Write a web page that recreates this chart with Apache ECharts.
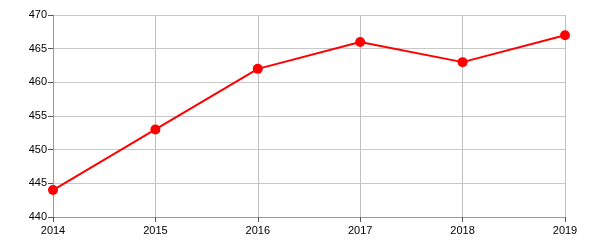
<!DOCTYPE html>
<html><head><meta charset="utf-8">
<script src="https://cdn.jsdelivr.net/npm/echarts@6/dist/echarts.min.js"></script>
<style>html,body{margin:0;padding:0;background:#fff}#c{width:600px;height:250px}</style>
</head><body><div id="c"></div>
<script>
const years = ['2014','2015','2016','2017','2018','2019'];
const values = [444, 453, 462, 466, 463, 467];
const yTicks = [440, 445, 450, 455, 460, 465, 470];

const chart = echarts.init(document.getElementById('c'), null, {renderer:'canvas'});
chart.setOption({
  animation:false,
  grid:{left:53, right:35, top:15, bottom:33, containLabel:false},
  xAxis:{
    type:'category', data:years, boundaryGap:false,
    axisLine:{lineStyle:{color:'#999', width:1}},
    axisTick:{show:true, length:5, lineStyle:{color:'#555'}},
    axisLabel:{color:'#000', fontSize:11, fontFamily:'Liberation Sans, Arial', margin:8, showMaxLabel:true, showMinLabel:true},
    splitLine:{show:true, lineStyle:{color:'#c0c0c0', width:1}}
  },
  yAxis:{
    type:'value', min:yTicks[0], max:yTicks[yTicks.length-1], interval:5,
    axisLine:{show:true, lineStyle:{color:'#999', width:1}},
    axisTick:{show:true, length:5, lineStyle:{color:'#555'}},
    axisLabel:{color:'#000', fontSize:11, fontFamily:'Liberation Sans, Arial', margin:6},
    splitLine:{show:true, lineStyle:{color:'#c8c8c8', width:1}}
  },
  series:[{
    type:'line', data:values,
    lineStyle:{color:'#ff0000', width:2},
    itemStyle:{color:'#ff0000'},
    symbol:'circle', symbolSize:10, showAllSymbol:true
  }]
});
</script></body></html>
